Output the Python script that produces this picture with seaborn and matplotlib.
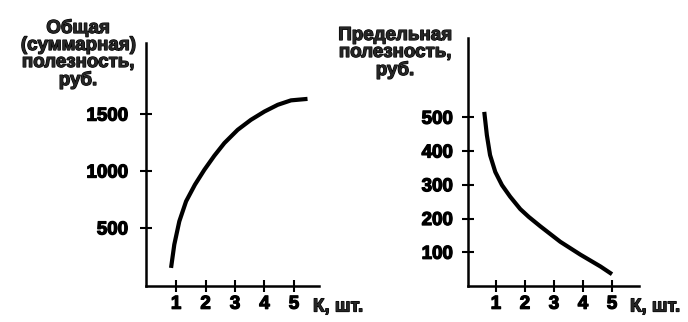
import matplotlib
matplotlib.use("Agg")
import matplotlib.pyplot as plt
import matplotlib.patheffects as pe
import seaborn as sns
import pandas as pd

sns.set_theme(style="white")
plt.rcParams['font.family'] = ['Liberation Sans', 'DejaVu Sans']
plt.rcParams['font.weight'] = 'bold'

# Total utility curve
total_q = [0.83, 0.94, 1.11, 1.34, 1.64, 1.96, 2.30, 2.64, 3.09, 3.54, 4.00, 4.45, 4.90, 5.46]
total_u = [149, 354, 558, 734, 880, 1011, 1135, 1246, 1362, 1450, 1523, 1582, 1621, 1634]

# Marginal utility curve
marg_q = [0.60, 0.69, 0.80, 0.98, 1.21, 1.49, 1.84, 2.13, 2.53, 3.22, 3.91, 4.60, 5.00]
marg_u = [516, 447, 388, 338, 299, 265, 228, 205, 177, 131, 93, 58, 35]

left_yticks = [500, 1000, 1500]
right_yticks = [100, 200, 300, 400, 500]
xticks = [1, 2, 3, 4, 5]

left_ylabel = "Общая\n(суммарная)\nполезность,\nруб."
right_ylabel = "Предельная\nполезность,\nруб."
xlabel = "К, шт."

W, H = 688, 322
fig = plt.figure(figsize=(W / 100, H / 100), dpi=100)
fig.patch.set_facecolor("white")

ax1 = fig.add_axes([146 / W, 1 - 286 / H, (319 - 146) / W, (286 - 43) / H])
ax2 = fig.add_axes([468 / W, 1 - 286 / H, (639 - 468) / W, (286 - 38) / H])

df1 = pd.DataFrame({"q": total_q, "u": total_u})
df2 = pd.DataFrame({"q": marg_q, "u": marg_u})
sns.lineplot(data=df1, x="q", y="u", ax=ax1, color="black", linewidth=3.0, sort=False)
sns.lineplot(data=df2, x="q", y="u", ax=ax2, color="black", linewidth=3.0, sort=False)
for ax in (ax1, ax2):
    for ln in ax.get_lines():
        ln.set_solid_joinstyle("round")
        ln.set_solid_capstyle("butt")

ax1.set_xlim(-0.02, 5.85)
ax1.set_ylim(-10, 2125)
ax2.set_xlim(0.04, 5.93)
ax2.set_ylim(0, 735)

heavy = [pe.withStroke(linewidth=0.9, foreground="black")]

for ax, yt, ypad in ((ax1, left_yticks, 9), (ax2, right_yticks, 7)):
    ax.set_xticks(xticks)
    ax.set_yticks(yt)
    ax.set_xticklabels([str(t) for t in xticks])
    ax.set_yticklabels([str(t) for t in yt])
    for s in ("top", "right"):
        ax.spines[s].set_visible(False)
    for s in ("left", "bottom"):
        ax.spines[s].set_visible(True)
        ax.spines[s].set_color("black")
        ax.spines[s].set_linewidth(1.8)
    ax.tick_params(axis="both", direction="inout", length=8, width=1.5,
                   colors="black", labelsize=13.5)
    ax.tick_params(axis="y", pad=ypad, left=True)
    ax.tick_params(axis="x", pad=3, bottom=True)
    for lab in ax.get_xticklabels() + ax.get_yticklabels():
        lab.set_fontweight("bold")
        lab.set_path_effects(heavy)
    ax.set_xlabel("")
    ax.set_ylabel("")
    ax.set_facecolor("white")
    ax.grid(False)

fig.text(78 / W, 1 - 54 / H, left_ylabel, ha="center", va="center",
         multialignment="center", fontsize=13.5, fontweight="bold",
         linespacing=1.0, path_effects=heavy)
fig.text(395 / W, 1 - 53 / H, right_ylabel, ha="center", va="center",
         multialignment="center", fontsize=13.5, fontweight="bold",
         linespacing=1.0, path_effects=heavy)
fig.text(313 / W, 1 - 307 / H, xlabel, ha="left", va="center",
         fontsize=13.5, fontweight="bold", path_effects=heavy)
fig.text(630 / W, 1 - 307 / H, xlabel, ha="left", va="center",
         fontsize=13.5, fontweight="bold", path_effects=heavy)

fig.savefig("out.png", dpi=100, facecolor="white")
